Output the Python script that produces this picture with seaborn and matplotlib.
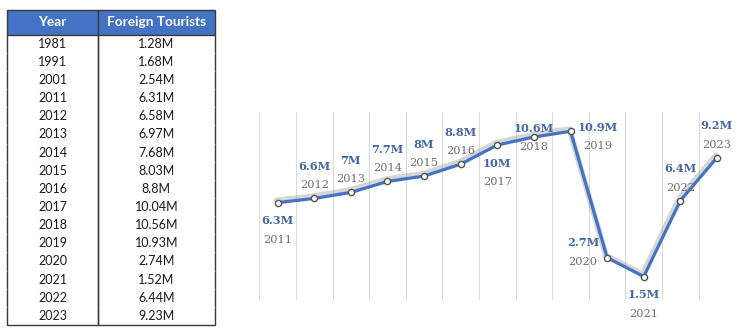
import matplotlib
matplotlib.use("Agg")
import matplotlib.pyplot as plt
import matplotlib.patheffects as pe
import numpy as np
import pandas as pd
import seaborn as sns

# Foreign tourist arrivals (millions)
years = [1981, 1991, 2001, 2011, 2012, 2013, 2014, 2015, 2016,
         2017, 2018, 2019, 2020, 2021, 2022, 2023]
tourists_m = [1.28, 1.68, 2.54, 6.31, 6.58, 6.97, 7.68, 8.03, 8.8,
              10.04, 10.56, 10.93, 2.74, 1.52, 6.44, 9.23]
col_labels = ["Year", "Foreign Tourists"]

BLUE = "#4472C4"
VALUE_COLOR = "#4467A8"
YEAR_COLOR = "#707070"

sns.set_theme(style="white")
plt.rcParams["font.family"] = ["Lato", "DejaVu Sans"]

W, H = 744, 330
fig = plt.figure(figsize=(W / 100, H / 100), dpi=100)

# ---------- table ----------
ax_t = fig.add_axes([7.3 / W, (H - 325) / H, 207.7 / W, 315 / H])
ax_t.axis("off")
cell_text = [[str(y), f"{v:g}M"] for y, v in zip(years, tourists_m)]
tbl = ax_t.table(cellText=cell_text, colLabels=col_labels, cellLoc="center",
                 colWidths=[0.435, 0.565], bbox=[0, 0, 1, 1])
tbl.auto_set_font_size(False)
tbl.set_fontsize(9.0)
n_rows = len(cell_text)
for (r, c), cell in tbl.get_celld().items():
    cell.set_edgecolor("#3A3A3A")
    cell.set_linewidth(1.0)
    if r == 0:
        cell.set_height(24.7)
        cell.set_facecolor(BLUE)
        cell.get_text().set_color("white")
        cell.get_text().set_fontweight("bold")
        cell.get_text().set_fontsize(9.8)
        cell.visible_edges = "closed"
    else:
        cell.set_height(18.14)
        cell.get_text().set_color("#1A1A1A")
        cell.visible_edges = "BLR" if r == n_rows else "LR"

# ---------- line chart ----------
df = pd.DataFrame({"year": years, "tourists": tourists_m})
trend = df[df["year"] >= 2011].reset_index(drop=True)

ax = fig.add_axes([259.3 / W, 30 / H, 476 / W, 188.3 / H])
for gx in np.arange(2010.5, 2022.6, 1.0):
    ax.axvline(gx, color="#DADADA", lw=0.8, zorder=0)

sns.lineplot(data=trend, x="year", y="tourists", ax=ax, color=BLUE, lw=2.3,
             zorder=3,
             path_effects=[pe.SimpleLineShadow(offset=(-0.8, 1.6), shadow_color="#8C8C8C",
                                               alpha=0.35, linewidth=4.2),
                           pe.Normal()])
sns.scatterplot(data=trend, x="year", y="tourists", ax=ax, s=20,
                color="white", edgecolor="#555555", linewidth=1.0, zorder=4)

ax.set_xlim(2010.5, 2023.5)
ax.set_ylim(0, 12.2)
ax.set_xlabel("")
ax.set_ylabel("")
ax.set_xticks([])
ax.set_yticks([])
for s in ax.spines.values():
    s.set_visible(False)

# label placement: (dx, value dy, year dy) in pixels
placement = {
    "above": (0, 32, 13),
    "below": (0, -18, -37),
    "left": (-24, 15, -4),
    "right": (27, 4, -15),
    "center": (0, 9, -9.5),
}
label_side = {2011: "below", 2017: "below", 2021: "below",
              2020: "left", 2019: "right", 2018: "center"}

serif = ["DejaVu Serif"]
for yr, val in zip(trend["year"], trend["tourists"]):
    dx, dv, dy = placement[label_side.get(yr, "above")]
    txt = f"{round(val, 1):g}M"
    ax.annotate(txt, (yr, val), xytext=(dx, dv), textcoords="offset pixels",
                ha="center", va="center", fontsize=8.2, fontweight="bold",
                color=VALUE_COLOR, family=serif, annotation_clip=False)
    ax.annotate(str(yr), (yr, val), xytext=(dx, dy), textcoords="offset pixels",
                ha="center", va="center", fontsize=8.2, color=YEAR_COLOR,
                family=serif, annotation_clip=False)

fig.savefig("out.png", dpi=100, facecolor="white")
